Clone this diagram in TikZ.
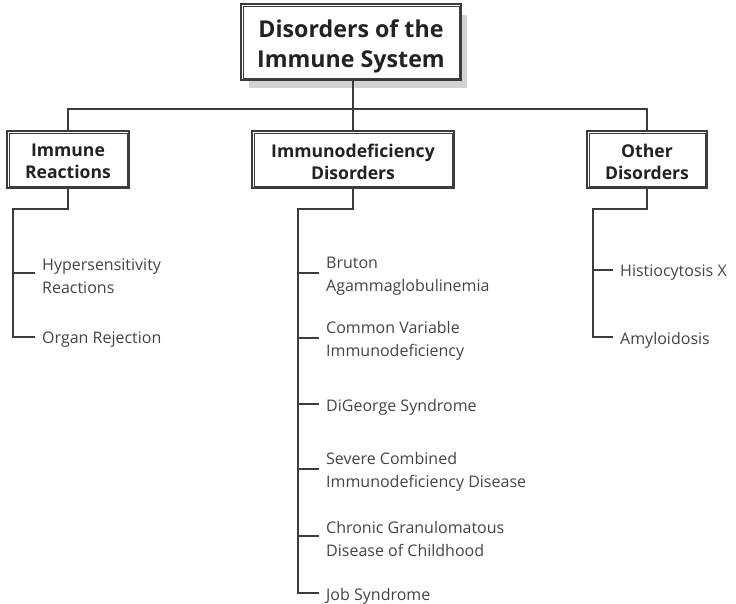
\documentclass[tikz,border=0pt]{standalone}
\usepackage{fontspec}
\setmainfont{Open Sans}
\begin{document}
\begin{tikzpicture}[x=1pt,y=-1pt,
  line/.style={draw=linegray, line width=1.3pt},
  boxouter/.style={draw=linegray, line width=1.8pt, fill=white, minimum height=57pt, inner sep=0pt},
  boxtitle/.style={font=\bfseries\fontsize{17.6}{22}\selectfont, text=titlegray, align=center},
  leaf/.style={anchor=west, inner sep=0pt, align=left, text=leafgray, font=\fontsize{16}{23}\selectfont},
  tick/.style={shift={(-7pt,3pt)}},
]
\definecolor{linegray}{HTML}{3C3C3C}
\definecolor{titlegray}{HTML}{222222}
\definecolor{leafgray}{HTML}{444444}
\definecolor{shadowgray}{HTML}{D2D2D2}
\useasboundingbox (0,0) rectangle (736,603);

% --- root box with drop shadow ---
\fill[shadowgray] (249,15) rectangle (467,88);
\node[boxouter, minimum width=220pt, minimum height=76pt] (root) at (351,42) {};
\draw[linegray, line width=0.8pt] ([shift={(3pt,-3pt)}]root.north west) rectangle ([shift={(-3pt,3pt)}]root.south east);
\node[boxtitle, font=\bfseries\fontsize{23.2}{30}\selectfont, yshift=-4pt] at (root.center) {Disorders of the\\Immune System};

% --- category boxes ---
\node[boxouter, minimum width=122pt] (immune) at (68,159.5) {};
\node[boxouter, minimum width=202pt] (defic) at (353,159.5) {};
\node[boxouter, minimum width=120pt] (other) at (647,159.5) {};
\foreach \b in {immune,defic,other}
  \draw[linegray, line width=0.8pt] ([shift={(3pt,-3pt)}]\b.north west) rectangle ([shift={(-3pt,3pt)}]\b.south east);
\node[boxtitle, yshift=-2pt] at (immune.center) {Immune\\Reactions};
\node[boxtitle, yshift=-2pt] at (defic.center) {Immunodeficiency\\Disorders};
\node[boxtitle, yshift=-2pt] at (other.center) {Other\\Disorders};

% --- bus from the root to the categories ---
\coordinate (bus) at (353,109);
\draw[line] (root.south -| bus) -- (bus);
\draw[line] (immune.north) |- (bus) -| (other.north);
\draw[line] (bus) -- (defic.north);

% --- leaf labels ---
\node[leaf] (hyp) at (42,276) {Hypersensitivity\\Reactions};
\node[leaf] (org) at (42,340) {Organ Rejection};
\node[leaf] (bru) at (326,276) {Bruton\\Agammaglobulinemia};
\node[leaf] (cvi) at (326,341) {Common Variable\\Immunodeficiency};
\node[leaf] (dig) at (326,407) {DiGeorge Syndrome};
\node[leaf] (scid) at (326,472) {Severe Combined\\Immunodeficiency Disease};
\node[leaf] (cgd) at (326,539) {Chronic Granulomatous\\Disease of Childhood};
\node[leaf] (job) at (326,596) {Job Syndrome};
\node[leaf] (his) at (620,273) {Histiocytosis X};
\node[leaf] (amy) at (620,340) {Amyloidosis};

% tick end points just left of each label
\foreach \n in {hyp,org,bru,cvi,dig,scid,cgd,job,his,amy}
  \coordinate (\n-t) at ([tick]\n.west);

% --- trunks and ticks ---
\coordinate (ij) at (13,209);
\draw[line] (immune.south) |- (ij) |- (org-t);
\draw[line] (ij |- hyp-t) -- (hyp-t);

\coordinate (dj) at (298,209);
\draw[line] (defic.south) |- (dj) |- (job-t);
\foreach \n in {bru,cvi,dig,scid,cgd}
  \draw[line] (dj |- \n-t) -- (\n-t);

\coordinate (oj) at (593,209);
\draw[line] (other.south) |- (oj) |- (amy-t);
\draw[line] (oj |- his-t) -- (his-t);
\end{tikzpicture}
\end{document}
